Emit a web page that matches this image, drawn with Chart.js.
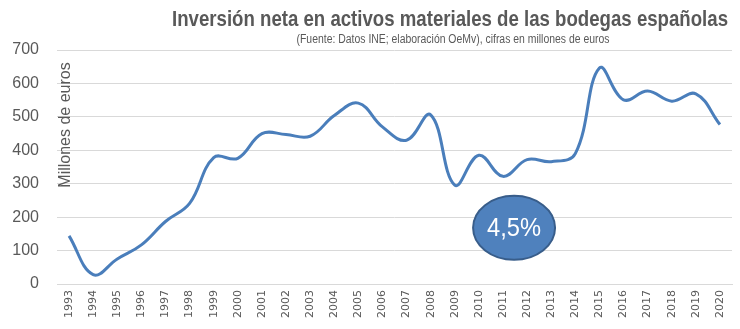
<!DOCTYPE html>
<html lang="es">
<head>
<meta charset="utf-8">
<title>Inversión neta en activos materiales de las bodegas españolas</title>
<script src="https://cdn.jsdelivr.net/npm/chart.js@4/dist/chart.umd.min.js"></script>
<style>
  html, body { margin: 0; padding: 0; background: #fff; }
  #wrap { position: relative; width: 740px; height: 329px; }
</style>
</head>
<body>
<div id="wrap"><canvas id="inversionChart" width="740" height="329"></canvas></div>
<script>
// Inversión neta anual (millones de euros)
const years = ['1993', '1994', '1995', '1996', '1997', '1998', '1999', '2000', '2001', '2002',
               '2003', '2004', '2005', '2006', '2007', '2008', '2009', '2010', '2011', '2012',
               '2013', '2014', '2015', '2016', '2017', '2018', '2019', '2020'];
const inversion = [144, 28, 75, 117, 187, 241, 378, 376, 450, 447,
                   442, 504, 541, 470, 430, 506, 296, 385, 322, 372,
                   366, 390, 646, 551, 577, 547, 569, 477];
const yTicks = [0, 100, 200, 300, 400, 500, 600, 700];

const titleText    = 'Inversión neta en activos materiales de las bodegas españolas';
const subtitleText = '(Fuente: Datos INE; elaboración OeMv), cifras en millones de euros';
const yAxisText    = 'Millones de euros';
const badgeText    = '4,5%';

const gray = '#595959';
const lineBlue = '#4A7EBB';
const regular = '"Liberation Sans", Arial, sans-serif';

// condensed text: squeeze horizontally so the string spans `width` px
function narrowText(ctx, text, cx, y, width) {
    const w = ctx.measureText(text).width;
    const k = Math.min(1, width / w);
    ctx.save();
    ctx.translate(cx, y);
    ctx.scale(k, 1);
    ctx.textAlign = 'center';
    ctx.fillText(text, 0, 0);
    ctx.restore();
}

// Title, axis caption and the "4,5%" badge are painted on top of the chart
const decorations = {
    id: 'decorations',
    afterDraw(chart) {
        const { ctx, scales: { x, y } } = chart;
        ctx.save();

        ctx.fillStyle = gray;
        ctx.textBaseline = 'alphabetic';
        ctx.font = 'bold 22px ' + regular;
        narrowText(ctx, titleText, 450, 26, 556);
        ctx.font = '12px ' + regular;
        narrowText(ctx, subtitleText, 453, 43, 313);

        // rotated axis caption
        ctx.save();
        ctx.translate(66, 125);
        ctx.rotate(-Math.PI / 2);
        ctx.font = '16px ' + regular;
        ctx.textAlign = 'center';
        ctx.textBaseline = 'middle';
        ctx.fillText(yAxisText, 0, 0);
        ctx.restore();

        // badge between 2011 and 2012
        const cx = x.getPixelForValue(18.46);
        const cy = y.getPixelForValue(168);
        ctx.beginPath();
        ctx.ellipse(cx, cy, 41, 32, 0, 0, Math.PI * 2);
        ctx.fillStyle = '#4F81BD';
        ctx.fill();
        ctx.lineWidth = 2;
        ctx.strokeStyle = '#385D8A';
        ctx.stroke();
        ctx.fillStyle = '#fff';
        ctx.font = '25px ' + regular;
        ctx.textBaseline = 'middle';
        narrowText(ctx, badgeText, cx, cy + 1, 54);

        ctx.restore();
    }
};

new Chart(document.getElementById('inversionChart'), {
    type: 'line',
    data: {
        labels: years,
        datasets: [{
            label: 'Inversión neta',
            data: inversion,
            borderColor: lineBlue,
            borderWidth: 3,
            pointRadius: 0,
            tension: 0.4,
            fill: false
        }]
    },
    options: {
        responsive: false,
        animation: false,
        layout: { padding: { top: 50, right: 8, left: 0, bottom: 0 } },
        plugins: {
            legend: { display: false },
            tooltip: { enabled: false }
        },
        scales: {
            x: {
                offset: true,
                grid: { display: false, drawTicks: false },
                border: { color: '#D9D9D9', width: 1 },
                ticks: {
                    color: gray,
                    font: { family: 'DejaVu Sans', size: 11 },
                    minRotation: 90,
                    maxRotation: 90,
                    padding: 6,
                    autoSkip: false
                },
                afterFit: s => { s.height = 45; }
            },
            y: {
                min: 0,
                max: 700,
                afterBuildTicks: s => { s.ticks = yTicks.map(v => ({ value: v })); },
                grid: { color: '#D9D9D9', lineWidth: 1, drawTicks: false },
                border: { display: false },
                ticks: {
                    color: gray,
                    font: { family: 'Liberation Sans', size: 16 },
                    padding: 18
                },
                afterFit: s => { s.width = 57; }
            }
        }
    },
    plugins: [decorations]
});
</script>
</body>
</html>
